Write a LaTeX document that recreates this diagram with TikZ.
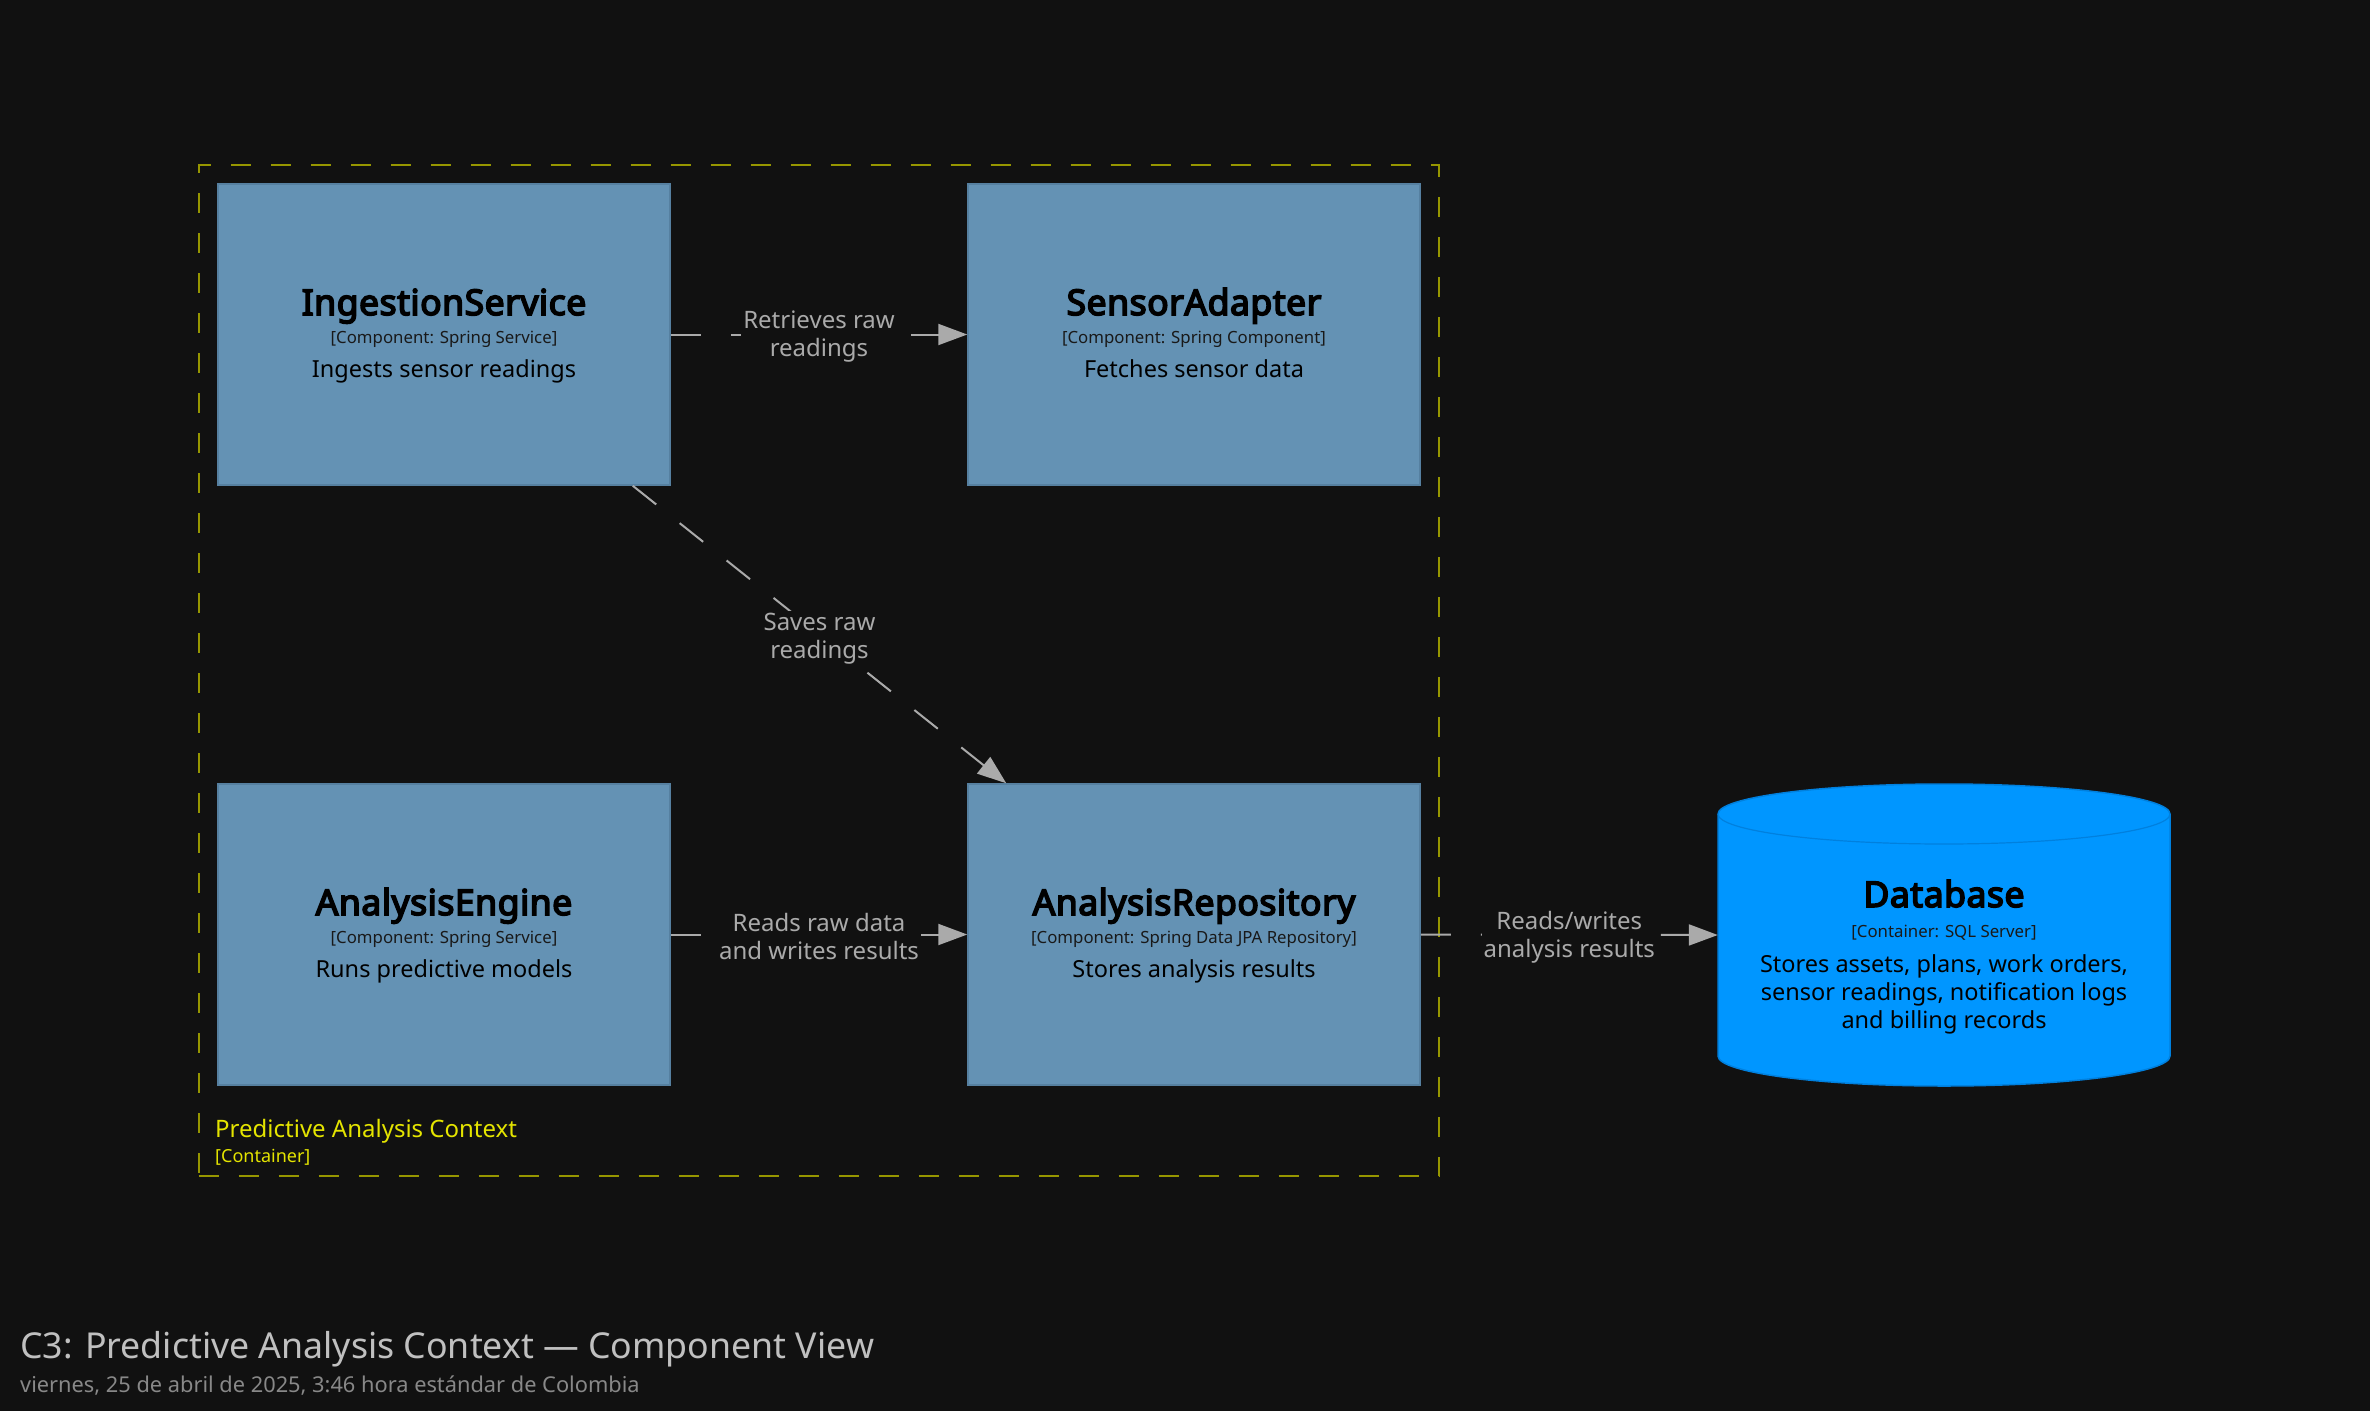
\documentclass[tikz,border=0pt]{standalone}
\usepackage{fontspec}
\setmainfont{Noto Sans}
\newfontfamily\ttlfont{Noto Sans}[AutoFakeBold=4.5,LetterSpace=1.5]
\usetikzlibrary{arrows.meta,calc}
\definecolor{bg}{HTML}{111111}
\definecolor{compfill}{RGB}{100,146,180}
\definecolor{compdraw}{RGB}{86,128,160}
\definecolor{dbfill}{RGB}{0,150,255}
\definecolor{dbdraw}{RGB}{0,128,222}
\definecolor{edgegray}{RGB}{170,170,170}
\definecolor{ctxdraw}{RGB}{150,150,0}
\definecolor{ctxtext}{RGB}{228,228,0}
\definecolor{titlegray}{RGB}{192,192,192}
\definecolor{subgray}{RGB}{136,136,136}
\newcommand\compnode[5]{%
  \node[compbox] (#1) at (#2) {};
  \node[ttl] (#1-t) at ($(#1.center)+(0,-19.5)$) {#3};
  \node[tech] (#1-k) at ($(#1.center)+(0,8.5)$) {#4};
  \node[desc] (#1-d) at ($(#1.center)+(0,42.5)$) {#5};
}
\begin{document}
\begin{tikzpicture}[x=1pt,y=-1pt,
  compbox/.style={draw=compdraw,fill=compfill,line width=1.5pt,inner sep=0,minimum width=452pt,minimum height=301pt},
  ttl/.style={font=\ttlfont\fontsize{35.5}{42}\selectfont\bfseries,text=black,inner sep=0,anchor=base},
  tech/.style={font=\fontsize{16.8}{20}\selectfont,text=black!90,inner sep=0,anchor=base},
  desc/.style={font=\fontsize{23.5}{28}\selectfont,text=black,inner sep=0,anchor=base},
  edge/.style={draw=edgegray,line width=2pt,dash pattern=on 30pt off 30pt,-{Triangle[length=29pt,width=21pt,fill=edgegray]}},
  lbl/.style={fill=bg,text=edgegray,inner sep=2pt,align=center,font=\fontsize{24}{28}\selectfont},
  ctxbox/.style={draw=ctxdraw,line width=2pt,dash pattern=on 20pt off 20pt,inner sep=0,minimum width=1240.5pt,minimum height=1011pt}
]
\fill[bg] (0,0) rectangle (2370,1411);
\useasboundingbox (0,0) rectangle (2370,1411);

% container boundary
\node[ctxbox] (ctx) at (818.75,670.5) {};
\node[anchor=base west,inner sep=0,text=ctxtext,font=\fontsize{24}{28}\selectfont] (ctx-t) at (215,1137) {Predictive Analysis Context};
\node[anchor=base west,inner sep=0,text=ctxtext,font=\fontsize{18}{22}\selectfont] (ctx-k) at (215,1162) {[Container]};

% components
\compnode{ing}{444,334.5}{IngestionService}{[Component: Spring Service]}{Ingests sensor readings}
\compnode{sen}{1194,334.5}{SensorAdapter}{[Component: Spring Component]}{Fetches sensor data}
\compnode{eng}{444,934.5}{AnalysisEngine}{[Component: Spring Service]}{Runs predictive models}
\compnode{rep}{1194,934.5}{AnalysisRepository}{[Component: Spring Data JPA Repository]}{Stores analysis results}

% database cylinder
\node[inner sep=0,minimum width=452pt,minimum height=302pt] (db) at (1944,935) {};
\filldraw[fill=dbfill,draw=dbdraw,line width=1.5pt]
  (1718,814) -- (1718,1056) arc[start angle=180,end angle=0,x radius=226,y radius=30]
  -- (2170,814) arc[start angle=0,end angle=-180,x radius=226,y radius=30] -- cycle;
\draw[dbdraw,line width=1.2pt] (1718,814) arc[start angle=180,end angle=0,x radius=226,y radius=30];
\node[ttl] (db-t) at ($(db.center)+(0,-28)$) {Database};
\node[tech] (db-k) at ($(db.center)+(0,2)$) {[Container: SQL Server]};
\node[desc] (db-d1) at ($(db.center)+(0,37)$) {Stores assets, plans, work orders,};
\node[desc] (db-d2) at ($(db.center)+(0,65)$) {sensor readings, notification logs};
\node[desc] (db-d3) at ($(db.center)+(0,93)$) {and billing records};

% relations
\draw[edge] (ing.east) -- (sen.west) node[midway,lbl,yshift=-2pt] {Retrieves raw\\readings};
\draw[edge] ($(ing.south east)+(-38,0)$) -- ($(rep.north west)+(39,0)$) node[midway,lbl,yshift=-4pt] {Saves raw\\readings};
\draw[edge] (eng.east) -- (rep.west) node[midway,lbl,yshift=-2pt] {Reads raw data\\and writes results};
\draw[edge] (rep.east) -- (db.west) node[midway,lbl,yshift=-2pt] {Reads/writes\\analysis results};

% title
\node[anchor=base west,inner sep=0,text=titlegray,font=\fontsize{35.7}{42}\selectfont] (title) at (20,1358) {C3: Predictive Analysis Context — Component View};
\node[anchor=base west,inner sep=0,text=subgray,font=\fontsize{21.8}{26}\selectfont] (subtitle) at (20,1392) {viernes, 25 de abril de 2025, 3:46 hora estándar de Colombia};
\end{tikzpicture}
\end{document}
